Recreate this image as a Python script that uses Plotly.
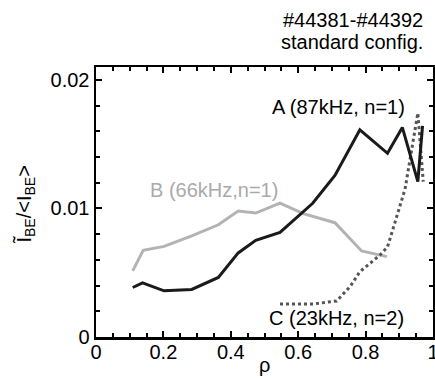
import plotly.graph_objects as go

# Series A (87kHz, n=1) - black solid
rho_a = [0.109, 0.138, 0.202, 0.284, 0.363, 0.422, 0.474, 0.546, 0.643, 0.709, 0.783, 0.865, 0.909, 0.955, 0.969]
amp_a = [0.00385, 0.00421, 0.00359, 0.00370, 0.00463, 0.00654, 0.00752, 0.00814, 0.01040, 0.01256, 0.01612, 0.01429, 0.01630, 0.01209, 0.01642]

# Series B (66kHz, n=1) - gray solid
rho_b = [0.109, 0.140, 0.202, 0.284, 0.363, 0.422, 0.474, 0.546, 0.615, 0.709, 0.788, 0.863]
amp_b = [0.00514, 0.00674, 0.00705, 0.00786, 0.00873, 0.00979, 0.00964, 0.01041, 0.00959, 0.00889, 0.00669, 0.00625]

# Series C (23kHz, n=2) - dark gray dotted
rho_c = [0.546, 0.645, 0.714, 0.754, 0.783, 0.843, 0.865, 0.917, 0.955, 0.971]
amp_c = [0.00257, 0.00257, 0.00280, 0.00392, 0.00508, 0.00638, 0.00700, 0.01150, 0.01741, 0.01209]

x_ticks = [0, 0.2, 0.4, 0.6, 0.8, 1]
x_ticktext = ["0", "0.2", "0.4", "0.6", "0.8", "1"]
y_ticks = [0, 0.01, 0.02]
y_ticktext = ["0", "0.01", "0.02"]

FONT = "Liberation Sans, Arial, Helvetica, sans-serif"

fig = go.Figure()
fig.add_trace(go.Scatter(x=rho_b, y=amp_b, mode="lines",
                         line=dict(color="#b3b3b3", width=3)))
fig.add_trace(go.Scatter(x=rho_c, y=amp_c, mode="lines",
                         line=dict(color="#555555", width=3, dash="dot")))
fig.add_trace(go.Scatter(x=rho_a, y=amp_a, mode="lines",
                         line=dict(color="#1a1a1a", width=3)))

axis_common = dict(
    showgrid=False, zeroline=False, showline=True, linecolor="black", linewidth=2.5,
    mirror="ticks", ticks="inside", ticklen=6, tickwidth=2, tickcolor="black",
    tickfont=dict(family=FONT, size=20, color="black"), automargin=False,
    ticklabeloverflow="allow",
)

fig.update_xaxes(range=[0, 1], tickvals=x_ticks, ticktext=x_ticktext,
                 minor=dict(dtick=0.05, ticks="inside", ticklen=4, tickwidth=2, tickcolor="black"),
                 ticklabelstandoff=-5,
                 **axis_common)
fig.update_yaxes(range=[0, 0.021], tickvals=y_ticks, ticktext=y_ticktext,
                 minor=dict(dtick=0.002, ticks="inside", ticklen=4, tickwidth=2, tickcolor="black"),
                 **axis_common)

ann_font = dict(family=FONT, size=20, color="black")
fig.add_annotation(x=0.72, y=0.0179, text="A (87kHz, n=1)", showarrow=False,
                   font=ann_font, xanchor="center", yanchor="middle")
fig.add_annotation(x=0.349, y=0.01144, text="B (66kHz,n=1)", showarrow=False,
                   font=dict(family=FONT, size=20, color="#aaaaaa"), xanchor="center", yanchor="middle")
fig.add_annotation(x=0.714, y=0.00148, text="C (23kHz, n=2)", showarrow=False,
                   font=ann_font, xanchor="center", yanchor="middle")

fig.add_annotation(xref="paper", yref="paper", x=0.976, y=1.174, text="#44381-#44392",
                   showarrow=False, font=ann_font, xanchor="right", yanchor="middle")
fig.add_annotation(xref="paper", yref="paper", x=0.976, y=1.093, text="standard config.",
                   showarrow=False, font=ann_font, xanchor="right", yanchor="middle")

fig.add_annotation(xref="paper", yref="paper", x=0.5, y=-0.104, text="ρ",
                   showarrow=False, font=ann_font, xanchor="center", yanchor="middle")

fig.add_annotation(xref="paper", yref="paper", x=-0.211, y=0.49,
                   text="Ĩ<sub>BE</sub>/&lt;I<sub>BE</sub>&gt;",
                   textangle=-90, showarrow=False, font=ann_font,
                   xanchor="center", yanchor="middle")

fig.update_layout(
    width=435, height=381,
    margin=dict(l=96, r=2, t=67, b=44),
    paper_bgcolor="white", plot_bgcolor="white",
    showlegend=False,
    font=dict(family=FONT, color="black"),
)

fig.write_html("out.html",
               config={"displayModeBar": False, "staticPlot": True},
               post_script="document.body.style.margin='0';document.body.style.overflow='hidden';")
